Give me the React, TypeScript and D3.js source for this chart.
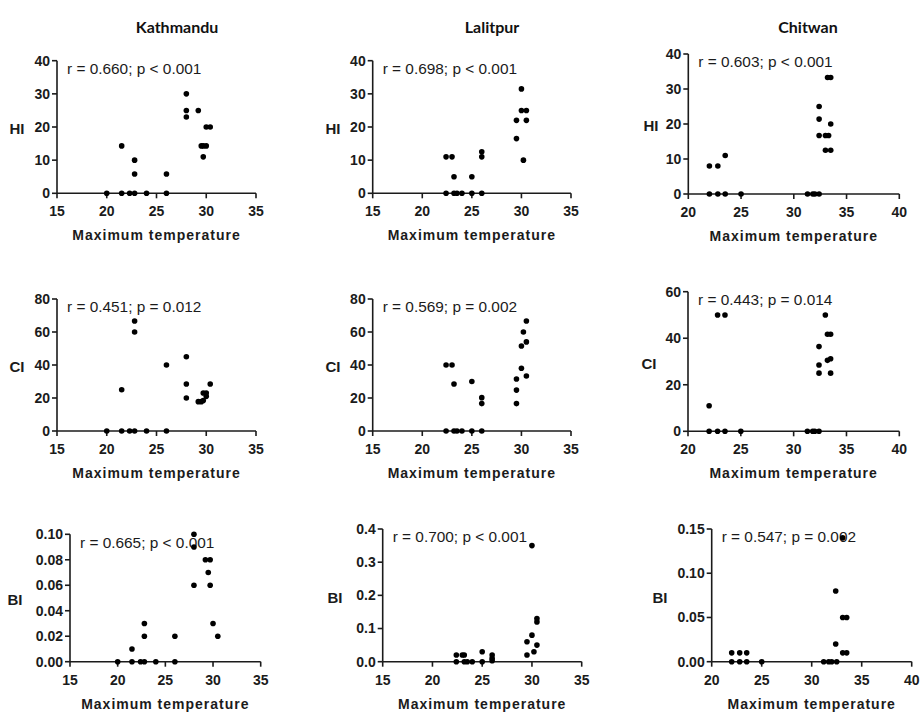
import React from "react";
import { scaleLinear, format } from "d3";

// sites and indices
const sites = ["Kathmandu", "Lalitpur", "Chitwan"];
const indices = ["HI", "CI", "BI"];

// tick values per axis
const xTicksKL = [15, 20, 25, 30, 35];
const xTicksCh = [20, 25, 30, 35, 40];
const hiTicks = [0, 10, 20, 30, 40];
const ciTicksKL = [0, 20, 40, 60, 80];
const ciTicksCh = [0, 20, 40, 60];
const biTicksKa = [0, 0.02, 0.04, 0.06, 0.08, 0.1];
const biTicksLa = [0, 0.1, 0.2, 0.3, 0.4];
const biTicksCh = [0, 0.05, 0.1, 0.15];

// correlation notes
const notes = [
  "r = 0.660; p < 0.001", "r = 0.698; p < 0.001", "r = 0.603; p < 0.001",
  "r = 0.451; p = 0.012", "r = 0.569; p = 0.002", "r = 0.443; p = 0.014",
  "r = 0.665; p < 0.001", "r = 0.700; p < 0.001", "r = 0.547; p = 0.002",
];

// [max temperature, index value]
const kathmanduHI = [[20,0],[21.5,0],[21.5,14.3],[22.3,0],[22.8,0],[22.8,10],[22.8,5.8],[24,0],[26,5.8],[26,0],[28,30],[28,25],[28,23],[29.2,25],[29.5,14.3],[29.7,14.3],[30,14.3],[29.7,11],[30,20],[30.4,20]];
const kathmanduCI = [[20,0],[21.5,0],[21.5,25],[22.3,0],[22.8,0],[22.8,66.7],[22.8,60],[24,0],[26,40],[26,0],[28,45],[28,28.5],[28,20],[29.2,17.8],[29.5,17.8],[29.7,18.5],[29.7,23],[30,23],[30,21],[30.4,28.5]];
const kathmanduBI = [[20,0],[21.5,0],[21.5,0.01],[22.4,0],[22.8,0],[22.8,0.02],[22.8,0.03],[24,0],[26,0.02],[26,0],[28,0.1],[28,0.09],[28,0.06],[29.2,0.08],[29.7,0.08],[29.5,0.07],[29.7,0.06],[30,0.03],[30.5,0.02]];
const lalitpurHI = [[22.4,11],[22.4,0],[23,11],[23.2,5],[23.2,0],[23.5,0],[24,0],[25,5],[25,0],[26,12.5],[26,11],[26,0],[29.5,22],[29.5,16.5],[30,31.5],[30,25],[30.2,10],[30.5,25],[30.5,22]];
const lalitpurCI = [[22.4,40],[22.4,0],[23,40],[23.2,28.5],[23.2,0],[23.5,0],[24,0],[25,30],[25,0],[26,20.2],[26,16.6],[26,0],[29.5,31.5],[29.5,24.8],[29.5,16.6],[30,51.5],[30,38],[30.2,60],[30.5,66.7],[30.5,54],[30.5,33.3]];
const lalitpurBI = [[22.4,0.02],[22.4,0],[23,0.02],[23.2,0.02],[23.2,0],[23.5,0],[24,0],[25,0.03],[25,0],[26,0.02],[26,0.01],[26,0.003],[29.5,0.06],[29.5,0.02],[30,0.08],[30,0.35],[30.2,0.03],[30.5,0.13],[30.5,0.12],[30.5,0.05]];
const chitwanHI = [[22,8],[22,0],[22.8,8],[22.8,0],[23.5,11],[23.5,0],[25,0],[31.3,0],[31.8,0],[32,0],[32.4,0],[32.4,25],[32.4,21.4],[32.4,16.7],[33,16.7],[33.3,16.7],[33,12.5],[33.5,12.5],[33.2,33.3],[33.5,33.3],[33.5,20]];
const chitwanCI = [[22,11],[22,0],[22.8,50],[22.8,0],[23.5,50],[23.5,0],[25,0],[31.3,0],[31.8,0],[32,0],[32.4,0],[32.4,36.4],[32.4,28.5],[32.4,25],[33,50],[33.2,41.7],[33.5,41.7],[33.2,30.5],[33.5,31.2],[33.5,25]];
const chitwanBI = [[22,0.01],[22,0],[22.8,0.01],[22.8,0],[23.5,0.01],[23.5,0],[25,0],[31.2,0],[31.7,0],[32,0],[32.5,0],[32.4,0.08],[32.4,0.02],[33.1,0.14],[33.1,0.05],[33.5,0.05],[33.1,0.01],[33.5,0.01]];

const panelData = [kathmanduHI, lalitpurHI, chitwanHI, kathmanduCI, lalitpurCI, chitwanCI, kathmanduBI, lalitpurBI, chitwanBI];
const yTickSets = [hiTicks, hiTicks, hiTicks, ciTicksKL, ciTicksKL, ciTicksCh, biTicksKa, biTicksLa, biTicksCh];
const yFormats = ["d", "d", "d", "d", "d", "d", ".2f", ".1f", ".2f"];

// pixel frame of every panel: x0, x1, yTop, y0, label x
const frames = [
  [57, 256, 60.7, 193.3, 17], [372.7, 571, 60.7, 193.3, 333], [688.3, 899.3, 54, 194, 651],
  [57, 256, 299, 431, 17], [372.7, 571, 299, 431, 333], [688, 899.3, 291.7, 431.3, 649],
  [70, 260.7, 534.3, 661.7, 15], [382.7, 581.7, 529, 661.7, 335], [711.7, 911.7, 529, 661.7, 660],
];
const titleX = [177, 492, 808];

const ink = "#1b1b1b";
const sansFont = "'Liberation Sans', Arial, sans-serif";

function Panel({ i }: { i: number }) {
  const [x0, x1, yTop, y0, labX] = frames[i];
  const col = i % 3;
  const row = Math.floor(i / 3);
  const xTicks = col === 2 ? xTicksCh : xTicksKL;
  const yTicks = yTickSets[i];
  const x = scaleLinear().domain([xTicks[0], xTicks[xTicks.length - 1]]).range([x0, x1]);
  const y = scaleLinear().domain([0, yTicks[yTicks.length - 1]]).range([y0, yTop]);
  const fmt = format(yFormats[i]);
  return (
    <g>
      {/* y axis */}
      <line x1={x0} x2={x0} y1={y0} y2={yTop} stroke={ink} strokeWidth={1.6} />
      {yTicks.map(t => (
        <g key={"y" + t}>
          <line x1={x0 - 5} x2={x0} y1={y(t)} y2={y(t)} stroke={ink} strokeWidth={1.6} />
          <text x={x0 - 7} y={y(t)} dy="0.35em" textAnchor="end" fontFamily={sansFont}
            fontWeight="bold" fontSize={14} fill={ink}>{fmt(t)}</text>
        </g>
      ))}
      {/* x axis */}
      <line x1={x0} x2={x1} y1={y0} y2={y0} stroke={ink} strokeWidth={1.6} />
      {xTicks.map(t => (
        <g key={"x" + t}>
          <line x1={x(t)} x2={x(t)} y1={y0} y2={y0 + 5} stroke={ink} strokeWidth={1.6} />
          <text x={x(t)} y={y0 + 18} dy="0.35em" textAnchor="middle" fontFamily={sansFont}
            fontWeight="bold" fontSize={14} fill={ink}>{t}</text>
        </g>
      ))}
      <text x={(x0 + x1) / 2} y={y0 + 42} dy="0.35em" textAnchor="middle" fontFamily={sansFont}
        fontWeight="bold" fontSize={14} letterSpacing={1} fill={ink}>Maximum temperature</text>
      <text x={labX} y={(y0 + yTop) / 2 + 2} dy="0.35em" textAnchor="middle" fontFamily={sansFont}
        fontWeight="bold" fontSize={15} fill={ink}>{indices[row]}</text>
      <text x={x0 + 10} y={yTop + 8} dy="0.35em" fontFamily={sansFont} fontSize={15.4} fill={ink}>{notes[i]}</text>
      {panelData[i].map((d, k) => (
        <circle key={k} cx={x(d[0])} cy={y(d[1])} r={2.8} fill="#000" />
      ))}
    </g>
  );
}

export default function App() {
  return (
    <svg width={921} height={716} style={{ position: "absolute", left: 0, top: 0, background: "#fff" }}>
      {sites.map((s, c) => (
        <text key={s} x={titleX[c]} y={27} dy="0.35em" textAnchor="middle" fontFamily="Lato, 'Noto Sans', sans-serif"
          fontWeight="bold" fontSize={16} fill="#111">{s}</text>
      ))}
      {frames.map((_, i) => <Panel key={i} i={i} />)}
    </svg>
  );
}
